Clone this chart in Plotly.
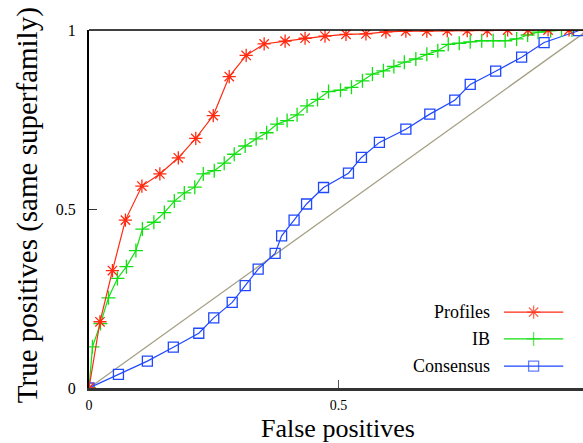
import plotly.graph_objects as go

# ---- data ----
profiles_fp = [0.0, 0.022, 0.047, 0.073, 0.106, 0.142, 0.179, 0.214, 0.249, 0.281, 0.315, 0.351,
               0.393, 0.433, 0.473, 0.515, 0.555, 0.595, 0.635, 0.677, 0.718, 0.758, 0.798,
               0.839, 0.880, 0.920, 0.962, 1.0]
profiles_tp = [0.0, 0.185, 0.328, 0.469, 0.564, 0.598, 0.643, 0.697, 0.761, 0.870, 0.929, 0.961,
               0.969, 0.977, 0.983, 0.988, 0.989, 0.995, 0.997, 0.997, 0.998, 0.998, 0.998,
               1.0, 1.0, 1.0, 1.0, 1.0]

ib_fp = [0.0, 0.007, 0.023, 0.039, 0.057, 0.075, 0.094, 0.107, 0.130, 0.151, 0.171, 0.191, 0.212,
         0.229, 0.251, 0.271, 0.291, 0.313, 0.335, 0.356, 0.377, 0.397, 0.417, 0.437, 0.458,
         0.480, 0.504, 0.526, 0.548, 0.568, 0.590, 0.611, 0.632, 0.655, 0.677, 0.699, 0.720,
         0.742, 0.764, 0.787, 0.810, 0.834, 0.857, 0.879, 0.900, 0.925, 0.947, 0.968, 1.0]
ib_tp = [0.0, 0.115, 0.180, 0.252, 0.306, 0.339, 0.384, 0.444, 0.463, 0.490, 0.522, 0.545, 0.561,
         0.598, 0.607, 0.628, 0.653, 0.676, 0.696, 0.713, 0.737, 0.747, 0.763, 0.788, 0.806,
         0.828, 0.832, 0.840, 0.858, 0.877, 0.886, 0.898, 0.910, 0.919, 0.932, 0.942, 0.960,
         0.963, 0.967, 0.970, 0.970, 0.970, 0.975, 0.986, 0.994, 0.998, 1.0, 1.0, 1.0]

cons_fp = [0.0, 0.059, 0.117, 0.169, 0.220, 0.250, 0.287, 0.313, 0.339, 0.373, 0.386, 0.411,
           0.436, 0.470, 0.520, 0.546, 0.582, 0.635, 0.683, 0.733, 0.764, 0.815, 0.867, 0.912, 0.981]
cons_tp = [0.0, 0.038, 0.075, 0.114, 0.153, 0.196, 0.239, 0.286, 0.332, 0.376, 0.425, 0.469,
           0.514, 0.560, 0.600, 0.644, 0.686, 0.723, 0.765, 0.804, 0.848, 0.885, 0.924, 0.965, 0.998]

diag_x = [0.0, 1.0]
diag_y = [0.0, 1.0]

series_names = ["Profiles", "IB", "Consensus"]
x_tickvals = [0, 0.5]
x_ticktext = ["0", "0.5"]
y_tickvals = [0, 0.5, 1]
y_ticktext = ["0", "0.5", "1"]
x_title = "False positives"
y_title = "True positives (same superfamily)"

# ---- style ----
FONT = "Liberation Serif"
RED = "#ff2a10"
GREEN = "#12e012"
BLUE = "#1f48ff"
GREY = "#a5a085"

W, H = 583, 443
ML, MR, MT, MB = 89, 0, 30, 55

fig = go.Figure()

fig.add_trace(go.Scatter(x=diag_x, y=diag_y, mode="lines",
                         line=dict(color=GREY, width=1.3), showlegend=False, hoverinfo="skip"))

styles = {
    "Consensus": dict(x=cons_fp, y=cons_tp, color=BLUE, symbol="square-open", size=10),
    "IB": dict(x=ib_fp, y=ib_tp, color=GREEN, symbol="cross-thin-open", size=10),
    "Profiles": dict(x=profiles_fp, y=profiles_tp, color=RED, symbol="asterisk-open", size=11),
}
for name in ["Consensus", "IB", "Profiles"]:
    s = styles[name]
    fig.add_trace(go.Scatter(
        x=s["x"], y=s["y"], mode="lines+markers", name=name,
        line=dict(color=s["color"], width=1.2),
        marker=dict(symbol=s["symbol"], size=s["size"], color=s["color"],
                    line=dict(color=s["color"], width=1.3)),
        showlegend=False))

# manual legend (symbol to the right of the text, like gnuplot)
leg_rows = [0.212, 0.137, 0.061]
leg_x0, leg_xm, leg_x1 = 0.840, 0.900, 0.960
leg_text_x = 0.816
for name, ry in zip(series_names, leg_rows):
    s = styles[name]
    fig.add_trace(go.Scatter(
        x=[leg_x0, leg_xm, leg_x1], y=[ry, ry, ry], mode="lines+markers",
        xaxis="x2", yaxis="y2",
        line=dict(color=s["color"], width=1.2),
        marker=dict(symbol=s["symbol"], size=[0, s["size"], 0], color=s["color"],
                    line=dict(color=s["color"], width=1.3)),
        showlegend=False, hoverinfo="skip"))
    fig.add_annotation(x=leg_text_x, y=ry, xref="paper", yref="paper",
                       text=name, showarrow=False, xanchor="right", yanchor="middle",
                       font=dict(family=FONT, size=18, color="black"))

# axis titles
fig.add_annotation(x=0.5, y=-0.114, xref="x", yref="paper", text=x_title, showarrow=False,
                   xanchor="center", yanchor="middle",
                   font=dict(family=FONT, size=26, color="black"))
fig.add_annotation(x=-0.124, y=0.51, xref="paper", yref="paper", text=y_title, showarrow=False,
                   textangle=-90, xanchor="center", yanchor="middle",
                   font=dict(family=FONT, size=29, color="black"))

# top frame line
fig.add_shape(type="line", xref="paper", yref="paper", x0=0, x1=1, y0=1, y1=1,
              line=dict(color="black", width=1.5))

fig.update_layout(
    width=W, height=H,
    margin=dict(l=ML, r=MR, t=MT, b=MB),
    paper_bgcolor="white", plot_bgcolor="white",
    showlegend=False,
    xaxis=dict(range=[0, 0.99], tickvals=x_tickvals, ticktext=x_ticktext,
               ticks="inside", ticklen=8, tickwidth=1.3, tickcolor="#555",
               showline=True, linecolor="#333", linewidth=3,
               showgrid=False, zeroline=False, ticklabelstandoff=2,
               tickfont=dict(family=FONT, size=14, color="black")),
    yaxis=dict(range=[0, 1], tickvals=y_tickvals, ticktext=y_ticktext,
               ticks="inside", ticklen=8, tickwidth=1.3, tickcolor="#333",
               showline=True, linecolor="black", linewidth=2,
               showgrid=False, zeroline=False, ticklabelstandoff=8,
               tickfont=dict(family=FONT, size=16, color="black")),
    xaxis2=dict(range=[0, 1], overlaying="x", visible=False, fixedrange=True),
    yaxis2=dict(range=[0, 1], overlaying="y", visible=False, fixedrange=True),
)

fig.write_html("out.html")
